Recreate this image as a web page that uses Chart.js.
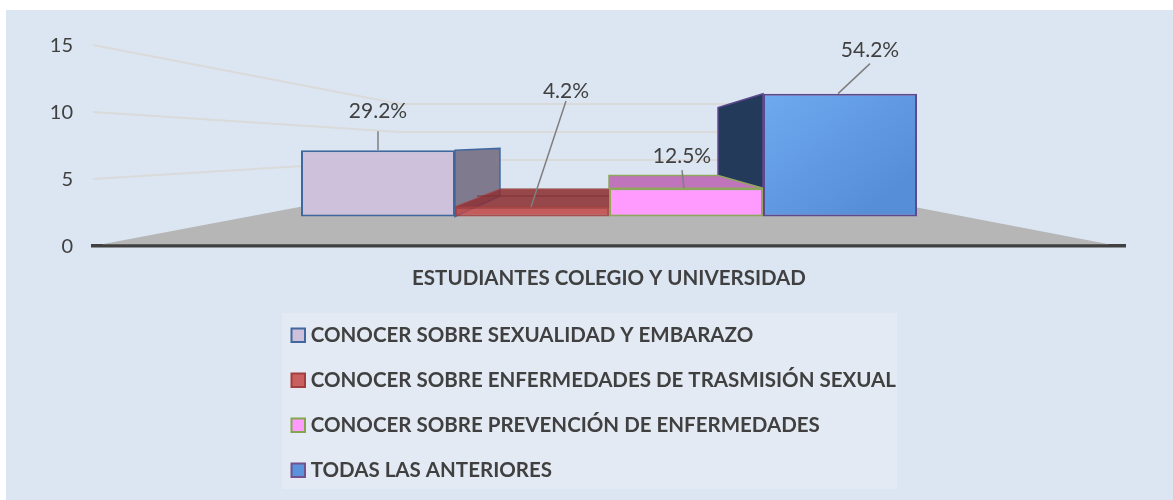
<!DOCTYPE html>
<html>
<head>
<meta charset="utf-8">
<style>html,body{margin:0;padding:0;background:#fff}canvas{display:block}</style>
<script src="https://cdn.jsdelivr.net/npm/chart.js@4/dist/chart.umd.min.js"></script>
</head>
<body>
<canvas id="c" width="1173" height="500"></canvas>
<script>
const categories = ['ESTUDIANTES COLEGIO Y UNIVERSIDAD'];
const seriesNames = [
  'CONOCER SOBRE SEXUALIDAD Y EMBARAZO',
  'CONOCER SOBRE ENFERMEDADES DE TRASMISIÓN SEXUAL',
  'CONOCER SOBRE PREVENCIÓN DE ENFERMEDADES',
  'TODAS LAS ANTERIORES'
];
const counts = [7, 1, 3, 13];
const percentLabels = ['29.2%', '4.2%', '12.5%', '54.2%'];
const yTicks = [0, 5, 10, 15];

const frontFills = ['#CDC1DB', 'rgba(200,70,70,0.8)', '#FF9BFF', '#5A92DC'];
const edgeColors = ['#41689E', 'rgba(165,60,60,0.85)', '#8FA65C', '#5D4A8E'];
const legendFills = ['#CDC1DB', '#C9605F', '#FF9BFF', '#5A92DC'];
const legendEdges = ['#41689E', '#A23E3E', '#84A64E', '#73508E'];
const depthFills = ['#7F7A8E', 'rgba(142,44,47,0.8)', '#C074BC', '#233A5A'];

const TEXT = '#404040';
const FONT = 'Lato';

// offsets of the leader lines and labels, relative to each bar's top centre
const labelLayout = [
  {tx: 0,   ty: -39, lx: 0,   ly: -19, ex: 0,   ey: 0},
  {tx: 34,  ty: -116, lx: 34, ly: -106, ex: -1, ey: 0},
  {tx: -4,  ty: -32, lx: -4,  ly: -18, ex: -2,  ey: 0},
  {tx: 30,  ty: -43, lx: 30,  ly: -30, ex: -2,  ey: 0}
];

function poly(ctx, pts, fill, stroke, lw) {
  ctx.beginPath();
  pts.forEach((p, i) => i ? ctx.lineTo(p[0], p[1]) : ctx.moveTo(p[0], p[1]));
  ctx.closePath();
  if (fill) { ctx.fillStyle = fill; ctx.fill(); }
  if (stroke) { ctx.strokeStyle = stroke; ctx.lineWidth = lw || 1.5; ctx.stroke(); }
}

const scene = {
  id: 'scene',
  afterLayout(chart) {
    const l = chart.legend;
    l.left = 266; l.top = 301; l.right = 1173; l.bottom = 560;
    l.width = l.right - l.left; l.height = l.bottom - l.top;
  },
  beforeDraw(chart) {
    const ctx = chart.ctx;
    ctx.save();
    ctx.fillStyle = '#DCE6F2';
    ctx.fillRect(6, 10, 1167, 490);
    ctx.fillStyle = '#E3EAF3';
    ctx.fillRect(282, 313, 615, 176);
    // legend swatches
    seriesNames.forEach((_, i) => {
      const y = 328.5 + i * 45;
      ctx.fillStyle = legendFills[i];
      ctx.fillRect(291.5, y, 13.5, 13.5);
      ctx.strokeStyle = legendEdges[i];
      ctx.lineWidth = 2;
      ctx.strokeRect(291.5, y, 13.5, 13.5);
    });
    ctx.restore();
  },
  beforeDatasetsDraw(chart) {
    const ctx = chart.ctx, s = chart.scales;
    const a = chart.chartArea;
    const wallL = 400, wallR = 815;
    ctx.save();
    // gridlines on side wall and back wall
    yTicks.slice(1).forEach(v => {
      ctx.beginPath();
      ctx.moveTo(a.left, s.y.getPixelForValue(v));
      ctx.lineTo(wallL, s.yWall.getPixelForValue(v));
      ctx.lineTo(wallR, s.yWall.getPixelForValue(v));
      ctx.strokeStyle = '#DADADA';
      ctx.lineWidth = 2;
      ctx.stroke();
    });
    // floor, stopping at the top edge of the axis line
    const floorBottom = a.bottom - 1.75;
    poly(ctx, [[a.left + 9, floorBottom], [wallL, s.yWall.getPixelForValue(0)],
               [wallR, s.yWall.getPixelForValue(0)], [a.right - 16, floorBottom]], '#B6B6B6');
    // depth faces, from the library's scales
    const cx = (a.left + a.right) / 2;
    const back = x => cx + (x - cx) * 0.708;
    const rects = chart.data.datasets.map((d, i) => {
      const el = chart.getDatasetMeta(i).data[0];
      return {l: el.x - el.width / 2, r: el.x + el.width / 2, v: d.data[0]};
    });
    const fy = v => s.yFront.getPixelForValue(v);
    const by = v => s.yBack.getPixelForValue(v);
    // first bar, right side
    let r = rects[0];
    poly(ctx, [[r.r, fy(r.v)], [back(r.r), by(r.v)], [back(r.r), by(0)], [r.r, fy(0)]],
      depthFills[0], edgeColors[0], 1.5);
    // second bar, top
    r = rects[1];
    poly(ctx, [[r.l, fy(r.v)], [r.r, fy(r.v)], [r.r, by(r.v)], [back(r.l), by(r.v)]],
      depthFills[1], 'rgba(165,60,60,0.6)', 1.5);
    ctx.beginPath();
    ctx.moveTo(r.l + 22, by(0)); ctx.lineTo(r.r, by(0));
    ctx.strokeStyle = 'rgba(125,45,48,0.6)'; ctx.lineWidth = 1.5; ctx.stroke();
    // fourth bar, left side
    r = rects[3];
    poly(ctx, [[r.l, fy(r.v)], [back(r.l), by(r.v)], [back(r.l), by(rects[2].v)], [r.l, fy(rects[2].v)]],
      depthFills[3], edgeColors[3], 1.5);
    // third bar, top
    r = rects[2];
    poly(ctx, [[r.l, fy(r.v)], [r.r, fy(r.v)], [back(r.r), by(r.v)], [r.l, by(r.v)]],
      depthFills[2], edgeColors[2], 1.5);
    ctx.restore();
  },
  afterDatasetsDraw(chart) {
    const ctx = chart.ctx, s = chart.scales;
    ctx.save();
    chart.data.datasets.forEach((d, i) => {
      const el = chart.getDatasetMeta(i).data[0];
      const top = s.yFront.getPixelForValue(d.data[0]);
      const L = labelLayout[i];
      ctx.beginPath();
      ctx.moveTo(el.x + L.lx, top + L.ly);
      ctx.lineTo(el.x + L.ex, top + L.ey);
      ctx.strokeStyle = '#7F7F7F';
      ctx.lineWidth = 1.5;
      ctx.stroke();
      ctx.fillStyle = TEXT;
      ctx.font = '21px ' + FONT;
      ctx.textAlign = 'center';
      ctx.textBaseline = 'middle';
      ctx.fillText(percentLabels[i], el.x + L.tx, top + L.ty);
    });
    ctx.restore();
  }
};

function blueGradient(c) {
  const area = c.chart.chartArea;
  if (!area) return frontFills[3];
  const g = c.chart.ctx.createLinearGradient(763, 93, 860, 216);
  g.addColorStop(0, '#6EAAF0');
  g.addColorStop(1, '#578ED8');
  return g;
}

new Chart(document.getElementById('c'), {
  type: 'bar',
  plugins: [scene],
  data: {
    labels: categories,
    datasets: seriesNames.map((name, i) => ({
      label: name,
      data: [counts[i]],
      yAxisID: 'yFront',
      backgroundColor: i === 3 ? blueGradient : frontFills[i],
      borderColor: edgeColors[i],
      borderWidth: 2,
      borderSkipped: false,
      categoryPercentage: 0.5969,
      barPercentage: 1
    }))
  },
  options: {
    responsive: false,
    animation: false,
    layout: {padding: {top: 45, right: 48, left: 0, bottom: 0}},
    plugins: {
      tooltip: {enabled: false},
      legend: {
        position: 'chartArea',
        align: 'start',
        labels: {
          font: {family: FONT, size: 20.5, weight: 'bold', lineHeight: 1.12},
          color: TEXT,
          boxWidth: 10,
          boxHeight: 10,
          padding: 24.5,
          generateLabels: chart => chart.data.datasets.map((d, i) => ({
            text: d.label, fillStyle: 'rgba(0,0,0,0)', strokeStyle: 'rgba(0,0,0,0)',
            lineWidth: 0, fontColor: TEXT, datasetIndex: i
          }))
        }
      }
    },
    scales: {
      x: {
        grid: {display: true, drawOnChartArea: false, drawTicks: false},
        border: {display: true, color: '#404040', width: 3.5},
        ticks: {padding: 20, color: TEXT, font: {family: FONT, size: 20.5, weight: 'bold'}},
        afterFit(scale) { scale.height = 254; }
      },
      y: {
        position: 'left', min: 0, max: 15,
        grid: {display: false},
        border: {display: false},
        ticks: {stepSize: 5, padding: 12, labelOffset: 1, color: TEXT, font: {family: FONT, size: 20}},
        afterFit(scale) { scale.width = 93; }
      },
      yFront: {display: false, min: -3.12, max: 18.15},
      yBack: {display: false, min: -7.353, max: 22.206},
      yWall: {display: false, min: -10.357, max: 25.536}
    }
  }
});
</script>
</body>
</html>
